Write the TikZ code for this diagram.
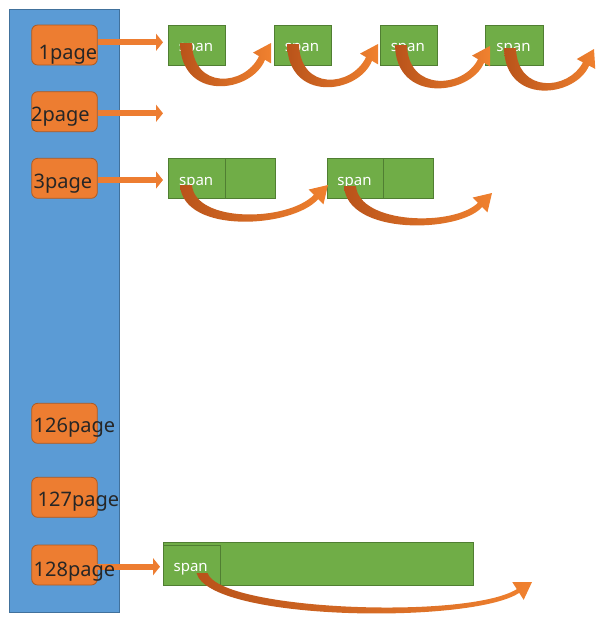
\documentclass[tikz,border=0pt]{standalone}
\usepackage{fontspec}
\setmainfont{Noto Sans}
\usetikzlibrary{calc,arrows.meta}
\definecolor{bluef}{HTML}{5B9BD5}
\definecolor{blueb}{HTML}{41719C}
\definecolor{orf}{HTML}{ED7D31}
\definecolor{orb}{HTML}{AE5A21}
\definecolor{grf}{HTML}{70AD47}
\definecolor{grb}{HTML}{507E32}
\definecolor{ribd}{HTML}{B9531A}
\definecolor{ribl}{HTML}{F0812F}
% ribbon arrow: start, control 1, control 2, head base, tip, start half width, end half width
\newcommand\ribbon[7]{%
  \coordinate (rS) at (#1);
  \coordinate (rA) at (#2);
  \coordinate (rB) at (#3);
  \coordinate (rH) at (#4);
  \coordinate (rT) at (#5);
  \shade[left color=ribd,right color=ribl]
    ($(rS)+(-#6,0)$) .. controls ($(rA)+(-#6,#6)$) and ($(rB)+(#7,#7)$) .. ($(rH)!#7pt!-90:(rT)$)
    -- ($(rH)!10.5pt!-90:(rT)$) -- (rT) -- ($(rH)!10.5pt!90:(rT)$) -- ($(rH)!#7pt!90:(rT)$)
    .. controls ($(rB)+(-#7,-#7)$) and ($(rA)+(#6,-#6)$) .. ($(rS)+(#6,0)$) -- cycle;
}
\begin{document}
\begin{tikzpicture}[x=1pt,y=-1pt,
  pagebox/.style={draw=orb,fill=orf,line width=0.8pt,rounded corners=6pt,minimum width=65.6pt,minimum height=40pt,inner sep=0pt},
  pagetext/.style={anchor=base west,inner sep=0pt,font=\fontsize{20}{24}\selectfont,text=black!85},
  cell/.style={draw=grb,fill=grf,line width=0.8pt,minimum height=40.5pt,inner sep=0pt},
  spantext/.style={anchor=base,inner sep=0pt,text=white,font=\fontsize{15}{18}\selectfont},
  blockarr/.style={draw=orf,line width=6pt,-{Triangle[length=7pt,width=17pt]}},
]
\useasboundingbox (0,0) rectangle (608,624);
% column
\node[draw=blueb,fill=bluef,line width=0.8pt,minimum width=110.5pt,minimum height=603.5pt,inner sep=0pt] (col) at (64.5,311) {};
% page boxes
\node[pagebox] (p1) at (64.5,45) {};
\node[pagebox] (p2) at (64.5,111.7) {};
\node[pagebox] (p3) at (64.5,178.3) {};
\node[pagebox] (p126) at (64.5,423.3) {};
\node[pagebox] (p127) at (64.5,497.3) {};
\node[pagebox] (p128) at (64.5,565) {};
% straight arrows
\coordinate (t1) at (163,42.3);
\coordinate (t2) at (163,113.3);
\coordinate (t3) at (163,180);
\coordinate (t128) at (160,566.7);
\draw[blockarr] (p1.east |- t1) -- (t1);
\draw[blockarr] (p2.east |- t2) -- (t2);
\draw[blockarr] (p3.east |- t3) -- (t3);
\draw[blockarr] ($(p128.east |- t128)+(-3,0)$) -- (t128);
% page texts
\node[pagetext] (l1) at (38.5,59.3) {1page};
\node[pagetext] (l2) at (31,121.7) {2page};
\node[pagetext] (l3) at (33.5,188) {3page};
\node[pagetext] (l126) at (33.5,432.5) {126page};
\node[pagetext] (l127) at (37.5,506.7) {127page};
\node[pagetext] (l128) at (33.5,576) {128page};
% row 1 spans
\node[cell,minimum width=57.5pt] (a1) at (197,45.3) {};
\node[cell,minimum width=57.5pt] (a2) at (303,45.3) {};
\node[cell,minimum width=57.5pt] (a3) at (408.8,45.3) {};
\node[cell,minimum width=57.5pt] (a4) at (514.5,45.3) {};
\foreach \n in {a1,a2,a3,a4}{\node[spantext] (\n t) at ($(\n.center)+(-1,6.5)$) {span};}
% row 3 spans
\node[cell,minimum width=56.7pt] (b1) at (197.2,178.5) {};
\node[cell,minimum width=49.3pt] (b2) at (250.3,178.5) {};
\node[cell,minimum width=55.6pt] (c1) at (355.5,178.5) {};
\node[cell,minimum width=50pt] (c2) at (408.3,178.5) {};
\node[spantext] (b1t) at ($(b1.center)+(-1,6.5)$) {span};
\node[spantext] (c1t) at ($(c1.center)+(-1,6.5)$) {span};
% row 128 span
\node[cell,minimum width=310pt,minimum height=43pt] (d0) at (318.3,564.2) {};
\node[cell,minimum width=56.7pt,minimum height=40pt] (d1) at (191.7,565) {};
\node[spantext] (d1t) at ($(d1.center)+(-1,6.5)$) {span};
% ribbon arrows
\ribbon{186,43}{187,96}{248,90}{262,58}{271,43}{6}{3.5}
\ribbon{293,44}{294,97}{355,91}{369,59}{378,44}{6}{3.5}
\ribbon{401,45}{402,98}{467,92}{481,61}{490,46}{6}{3.5}
\ribbon{510,48}{511,100}{572,94}{586,64}{594,49}{6}{3.5}
\ribbon{186,185}{189,229}{290,225}{316,197}{328,185}{6}{3}
\ribbon{350,186}{353,230}{456,230}{480,205}{492,193}{6}{3}
\ribbon{202,573}{215,616}{470,622}{518,591}{532,582}{5.5}{2.2}
\end{tikzpicture}
\end{document}
